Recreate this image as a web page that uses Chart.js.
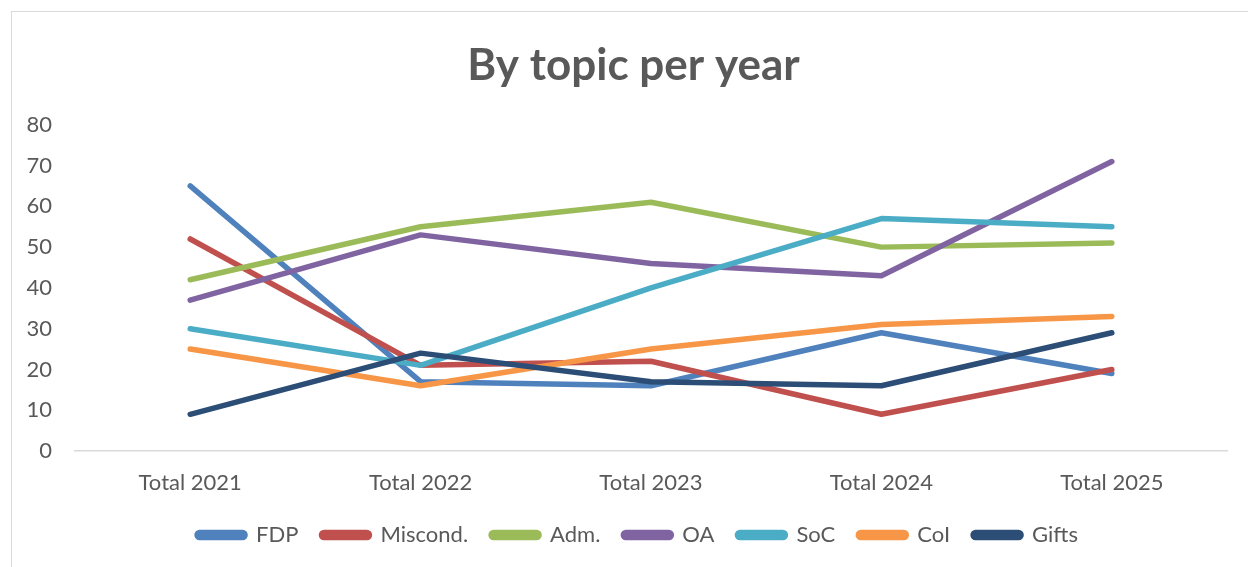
<!DOCTYPE html>
<html>
<head>
<meta charset="utf-8">
<script src="https://cdn.jsdelivr.net/npm/chart.js@4"></script>
<style>
  html, body { margin: 0; padding: 0; background: #fff; overflow: hidden; }
  #frame { position: absolute; left: 11px; top: 11px; width: 1300px; height: 600px;
           border-left: 1.5px solid #d9d9d9; border-top: 1.5px solid #d9d9d9; }
  #chart { position: absolute; left: 0; top: 0; }
</style>
</head>
<body>
<div id="frame"></div>
<canvas id="chart" width="1248" height="567"></canvas>
<script>
// Values.
const years = ['Total 2021', 'Total 2022', 'Total 2023', 'Total 2024', 'Total 2025'];
const topics = ['FDP', 'Miscond.', 'Adm.', 'OA', 'SoC', 'CoI', 'Gifts'];
const colors = ['#4f81bd', '#c0504d', '#9bbb59', '#8064a2', '#4bacc6', '#f79646', '#2c4d75'];

const fdp = [65, 17, 16, 29, 19];
const miscond = [52, 21, 22, 9, 20];
const adm = [42, 55, 61, 50, 51];
const oa = [37, 53, 46, 43, 71];
const soc = [30, 21, 40, 57, 55];
const coi = [25, 16, 25, 31, 33];
const gifts = [9, 24, 17, 16, 29];
const series = [fdp, miscond, adm, oa, soc, coi, gifts];

const yTicks = [0, 10, 20, 30, 40, 50, 60, 70, 80];

const font = 'Lato, "Open Sans", sans-serif';
const grey = '#595959';

// Excel draws later series on top, so lower order for later ones.
const datasets = topics.map((name, i) => ({
    label: name,
    data: series[i],
    borderColor: colors[i],
    backgroundColor: colors[i],
    borderWidth: 5.5,
    borderCapStyle: 'round',
    borderJoinStyle: 'round',
    pointRadius: 0,
    tension: 0,
    order: topics.length - i
}));

// Title and legend sit centred on the plot rather than the whole canvas.
const shiftBoxes = {
    id: 'shiftBoxes',
    afterLayout(chart) {
        const dx = 24;
        chart.legend.left += dx; chart.legend.right += dx;
        chart.titleBlock.left += 20; chart.titleBlock.right += 20;
    }
};

new Chart(document.getElementById('chart'), {
    type: 'line',
    data: { labels: years, datasets: datasets },
    plugins: [shiftBoxes],
    options: {
        responsive: false,
        animation: false,
        devicePixelRatio: 1,
        layout: { padding: { left: 0, right: 21, top: 0, bottom: 11 } },
        plugins: {
            tooltip: { enabled: false },
            title: {
                display: true,
                text: 'By topic per year',
                color: grey,
                font: { family: font, size: 44, weight: 'bold' },
                padding: { top: 39, bottom: 33 }
            },
            legend: {
                position: 'bottom',
                labels: {
                    sort: (a, b) => a.datasetIndex - b.datasetIndex,
                    color: grey,
                    font: { family: font, size: 22 },
                    boxWidth: 48,
                    boxHeight: 5,
                    useBorderRadius: true,
                    borderRadius: 2.5,
                    padding: 23
                }
            }
        },
        scales: {
            x: {
                offset: true,
                afterFit: (s) => { s.height = 50; },
                grid: { display: false, drawTicks: false },
                border: { display: true, color: '#d9d9d9', width: 1.5 },
                ticks: { color: grey, font: { family: font, size: 22 }, padding: 19, maxRotation: 0 }
            },
            y: {
                min: 0,
                max: 80,
                afterBuildTicks: (s) => { s.ticks = yTicks.map(v => ({ value: v })); },
                afterFit: (s) => { s.width = 75; },
                grid: { display: false, drawTicks: false },
                border: { display: false },
                ticks: { color: grey, font: { family: font, size: 22 }, padding: 23 }
            }
        }
    }
});
</script>
</body>
</html>
